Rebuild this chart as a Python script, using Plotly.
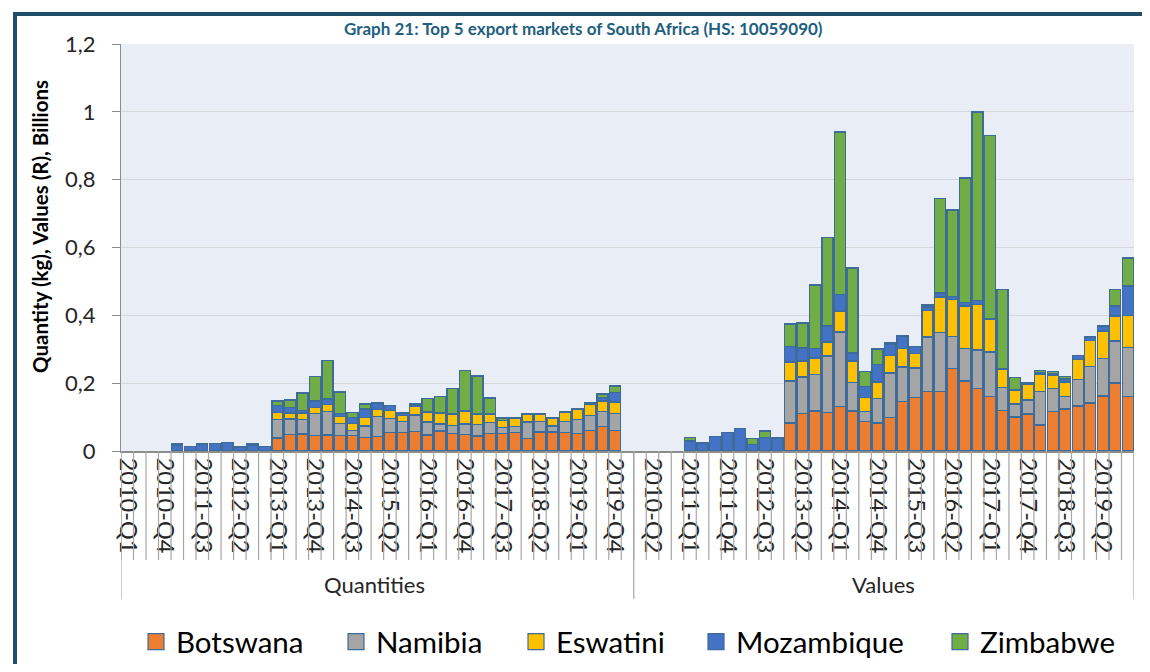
import plotly.graph_objects as go

# ---------------- data ----------------
quarters = [f"{y}-Q{q}" for y in range(2010, 2020) for q in range(1, 5)]
groups = ["Quantities", "Values"]
countries = ["Botswana", "Namibia", "Eswatini", "Mozambique", "Zimbabwe"]
colors = ["#ED7D31", "#A5A5A5", "#FFC000", "#4472C4", "#70AD47"]

# Quantities (kg, billions) 2010-Q1 .. 2019-Q4
botswana_qty = [0, 0, 0, 0, 0, 0, 0, 0, 0, 0, 0, 0,
                0.038, 0.048, 0.050, 0.046, 0.047, 0.046, 0.046, 0.039,
                0.043, 0.054, 0.054, 0.057, 0.047, 0.059, 0.052, 0.049,
                0.044, 0.052, 0.052, 0.054, 0.037, 0.056, 0.056, 0.055,
                0.052, 0.060, 0.072, 0.060]
namibia_qty = [0, 0, 0, 0, 0, 0, 0, 0, 0, 0, 0, 0,
               0.055, 0.046, 0.043, 0.064, 0.070, 0.035, 0.015, 0.035,
               0.059, 0.042, 0.033, 0.049, 0.039, 0.021, 0.023, 0.031,
               0.035, 0.032, 0.017, 0.018, 0.049, 0.031, 0.018, 0.032,
               0.041, 0.044, 0.045, 0.051]
eswatini_qty = [0, 0, 0, 0, 0, 0, 0, 0, 0, 0, 0, 0,
                0.020, 0.018, 0.019, 0.018, 0.020, 0.020, 0.020, 0.025,
                0.021, 0.023, 0.017, 0.027, 0.027, 0.030, 0.033, 0.036,
                0.030, 0.023, 0.021, 0.024, 0.023, 0.020, 0.021, 0.028,
                0.029, 0.033, 0.031, 0.034]
mozambique_qty = [0, 0, 0, 0, 0.016, 0.013, 0.021, 0.023, 0.025, 0.010, 0.017, 0.014,
                  0.021, 0.016, 0.008, 0.019, 0.016, 0.010, 0.017, 0.025,
                  0.019, 0.015, 0.008, 0.006, 0.003, 0.002, 0.002, 0.003,
                  0.002, 0.003, 0, 0.003, 0.002, 0.002, 0.002, 0.002,
                  0.002, 0.004, 0.009, 0.027]
zimbabwe_qty = [0, 0, 0, 0, 0.005, 0, 0, 0, 0, 0.002, 0.004, 0,
                0.014, 0.022, 0.051, 0.072, 0.113, 0.063, 0.015, 0.015,
                0, 0, 0, 0, 0.039, 0.049, 0.075, 0.118,
                0.110, 0.046, 0.007, 0, 0, 0, 0, 0,
                0, 0, 0.011, 0.020]

# Values (R, billions) 2010-Q1 .. 2019-Q4
botswana_val = [0, 0, 0, 0, 0, 0, 0, 0, 0, 0, 0, 0,
                0.082, 0.111, 0.118, 0.113, 0.132, 0.118, 0.087, 0.083,
                0.098, 0.146, 0.157, 0.176, 0.176, 0.243, 0.206, 0.185,
                0.161, 0.119, 0.100, 0.109, 0.077, 0.116, 0.124, 0.133,
                0.141, 0.162, 0.201, 0.161]
namibia_val = [0, 0, 0, 0, 0, 0, 0, 0, 0, 0, 0, 0,
               0.124, 0.107, 0.107, 0.167, 0.219, 0.084, 0.030, 0.071,
               0.132, 0.102, 0.088, 0.160, 0.173, 0.094, 0.096, 0.113,
               0.131, 0.069, 0.039, 0.041, 0.099, 0.069, 0.037, 0.077,
               0.109, 0.110, 0.123, 0.144]
eswatini_val = [0, 0, 0, 0, 0, 0, 0, 0, 0, 0, 0, 0,
                0.056, 0.047, 0.049, 0.041, 0.062, 0.063, 0.040, 0.049,
                0.052, 0.054, 0.042, 0.078, 0.105, 0.110, 0.126, 0.134,
                0.097, 0.053, 0.039, 0.047, 0.049, 0.039, 0.043, 0.059,
                0.076, 0.082, 0.074, 0.094]
mozambique_val = [0, 0, 0, 0, 0.029, 0.024, 0.042, 0.054, 0.066, 0.019, 0.040, 0.037,
                  0.046, 0.039, 0.028, 0.048, 0.049, 0.024, 0.034, 0.052,
                  0.033, 0.036, 0.022, 0.010, 0.012, 0.008, 0.010, 0.012,
                  0.002, 0.003, 0.002, 0.005, 0.005, 0.003, 0.008, 0.013,
                  0.010, 0.014, 0.029, 0.088]
zimbabwe_val = [0, 0, 0, 0, 0.011, 0, 0, 0, 0, 0.018, 0.019, 0.002,
                0.067, 0.073, 0.188, 0.261, 0.478, 0.250, 0.044, 0.046,
                0.004, 0.003, 0, 0.006, 0.279, 0.256, 0.367, 0.555,
                0.540, 0.233, 0.037, 0, 0.008, 0.007, 0.007, 0,
                0, 0, 0.049, 0.082]

y_title = "Quantity (kg), Values (R), Billions"
chart_title = "Graph 21: Top 5 export markets of South Africa (HS: 10059090)"

qty_series = [botswana_qty, namibia_qty, eswatini_qty, mozambique_qty, zimbabwe_qty]
val_series = [botswana_val, namibia_val, eswatini_val, mozambique_val, zimbabwe_val]

# ---------------- layout helpers (page pixel -> paper coords) ----------------
OFF = 8                      # default body margin of the html page
W, H = 1150 - 2 * OFF, 672 - 2 * OFF
ML, MR, MT, MB = 113, 8, 36, 213
PW = W - ML - MR
PH = H - MT - MB

def px_x(p):
    return (p - OFF - ML) / PW

def px_y(p):
    return (H - MB - (p - OFF)) / PH

def cont_y(p):
    return (H - (p - OFF)) / H

n_q = len(quarters)
gap_slots = 1
qty_x = list(range(n_q))
val_x = [n_q + gap_slots + i for i in range(n_q)]
n_total = n_q + gap_slots + n_q

FONT = "Lato"
TXT = "#262626"
OUTLINE = "#3D6C9A"

fig = go.Figure()
for name, col, qs, vs in zip(countries, colors, qty_series, val_series):
    ys = [v if v else None for v in qs + vs]
    fig.add_trace(go.Bar(
        x=qty_x + val_x, y=ys, name=name,
        marker=dict(color=col, line=dict(color=OUTLINE, width=1.4)),
        showlegend=False, legendgroup=name,
    ))

# legend entries (square swatches), one legend per item for Excel-like spacing
legend_left_px = [148, 348, 528, 708, 952]
for i, (name, col) in enumerate(zip(countries, colors)):
    lid = "legend" if i == 0 else f"legend{i+1}"
    fig.add_trace(go.Scatter(
        x=[None], y=[None], mode="markers", name=name, legendgroup=name,
        marker=dict(symbol="square", size=16, color=col, line=dict(color=OUTLINE, width=1.2)),
        legend=lid, showlegend=True,
    ))
    fig.update_layout(**{lid: dict(
        orientation="h", x=px_x(legend_left_px[i] - 12), xanchor="left",
        yref="container", y=cont_y(642), yanchor="middle", bgcolor="rgba(0,0,0,0)",
        font=dict(family=FONT, size=29.5, color="#000000"),
        itemclick=False, itemdoubleclick=False,
    )})

# tick labels every 3rd slot
tickvals, ticktext = [], []
for k in range(0, n_total, 3):
    if k < n_q:
        tickvals.append(k); ticktext.append(quarters[k])
    elif k >= n_q + gap_slots:
        tickvals.append(k); ticktext.append(quarters[k - n_q - gap_slots])

shapes = []
# category boundary lines below axis
for b in range(n_total + 1):
    shapes.append(dict(type="line", xref="x", yref="paper", x0=b - 0.5, x1=b - 0.5,
                       y0=0, y1=px_y(560), line=dict(color="#A6A6A6", width=1.2)))
# group separators
for b in [0, n_q + gap_slots, n_total]:
    shapes.append(dict(type="line", xref="x", yref="paper", x0=b - 0.5, x1=b - 0.5,
                       y0=0, y1=px_y(599), line=dict(color="#A6A6A6", width=1.2)))
# outer teal frame (left and top edges visible)
shapes.append(dict(type="line", xref="paper", yref="paper",
                   x0=px_x(15), x1=px_x(15), y0=px_y(720), y1=px_y(12),
                   line=dict(color="#1E4E68", width=4)))
shapes.append(dict(type="line", xref="paper", yref="paper",
                   x0=px_x(13), x1=px_x(1200), y0=px_y(14), y1=px_y(14),
                   line=dict(color="#1E4E68", width=4)))

annotations = [
    dict(text=chart_title, xref="paper", yref="paper", x=px_x(583), y=px_y(29),
         xanchor="center", yanchor="middle", showarrow=False,
         font=dict(family=FONT, size=17, color="#1F5F7F", weight="bold")),
    dict(text=y_title, xref="paper", yref="paper", x=px_x(40), y=px_y(227),
         xanchor="center", yanchor="middle", textangle=-90, showarrow=False,
         font=dict(family=FONT, size=20.5, color="#000000", weight="bold")),
    dict(text=groups[0], xref="x", yref="paper", x=(n_q - 1) / 2 + 0.25, y=px_y(584),
         xanchor="center", yanchor="middle", showarrow=False,
         font=dict(family=FONT, size=22, color=TXT)),
    dict(text=groups[1], xref="x", yref="paper", x=n_q + gap_slots + (n_q - 1) / 2, y=px_y(584),
         xanchor="center", yanchor="middle", showarrow=False,
         font=dict(family=FONT, size=22, color=TXT)),
]

fig.update_layout(
    width=W, height=H,
    margin=dict(l=ML, r=MR, t=MT, b=MB, autoexpand=False),
    barmode="stack", bargap=0.12,
    paper_bgcolor="white", plot_bgcolor="#E9EDF5",
    separators=", ",
    font=dict(family=FONT, color=TXT),
    shapes=shapes, annotations=annotations,
    xaxis=dict(range=[-0.5, n_total - 0.5], tickmode="array", tickvals=tickvals,
               ticktext=ticktext, tickangle=90, ticks="", showgrid=False,
               showline=True, linecolor="#8C8C8C", linewidth=2, automargin=False,
               tickfont=dict(family=FONT, size=23.5, color=TXT), zeroline=False),
    yaxis=dict(range=[0, 1.2], dtick=0.2, tick0=0, showgrid=True, gridcolor="#D5D7DB",
               gridwidth=1.3, showline=True, linecolor="#8C8C8C", linewidth=1.3,
               ticks="outside", ticklen=8, tickcolor="#8C8C8C", automargin=False,
               ticklabelstandoff=12,
               tickfont=dict(family=FONT, size=22, color=TXT), zeroline=False),
)

fig.write_html("out.html")
